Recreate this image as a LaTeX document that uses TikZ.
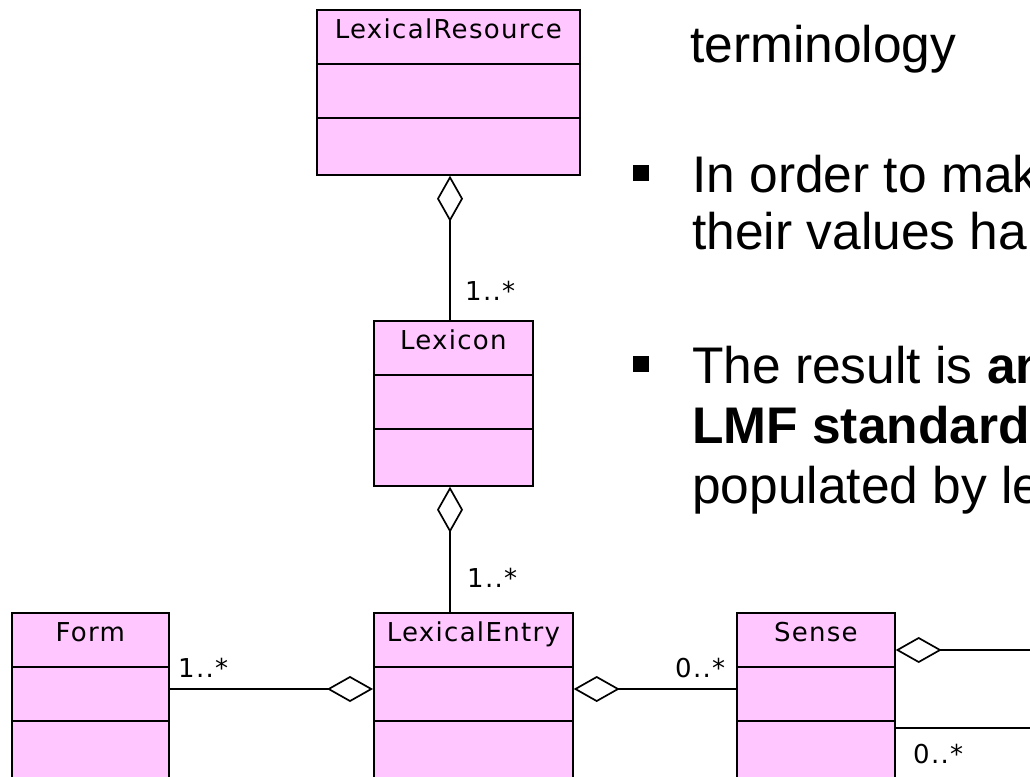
\documentclass[tikz,border=0pt]{standalone}
\usepackage{fontspec}
\setmainfont{Liberation Sans}
\newfontfamily\umlfont[LetterSpace=5]{DejaVu Sans}
\usetikzlibrary{arrows.meta,calc}
\definecolor{classpink}{RGB}{255,198,255}

\tikzset{
  classbox/.style={draw=black, fill=classpink, line width=1.7pt, inner sep=0pt, anchor=north west},
  classname/.style={font=\umlfont\fontsize{26}{26}\selectfont, anchor=base, inner sep=0pt},
  mult/.style={font=\umlfont\fontsize{26}{26}\selectfont, anchor=base west, inner sep=0pt},
  assoc/.style={line width=1.7pt},
  agg/.style={line width=1.7pt, {Diamond[open,fill=white,length=46pt,width=26pt]}-},
  bodytext/.style={font=\fontsize{51.5}{59.5}\selectfont, anchor=base west, inner sep=0pt},
  bulletmark/.style={fill=black, minimum size=16pt, inner sep=0pt},
}

% UML class with three compartments: name, x, y (top left), width, height, title
\newcommand\umlclass[6]{%
  \node[classbox, minimum width=#4pt, minimum height=#5pt] (#1) at (#2,#3) {};
  \draw[line width=1.7pt] ($(#1.north west)+(0,55)$) -- ($(#1.north east)+(0,55)$);
  \draw[line width=1.7pt] ($(#1.north west)+(0,109)$) -- ($(#1.north east)+(0,109)$);
  \node[classname] (#1-title) at ($(#1.north)+(0,29)$) {#6};
}

\begin{document}
\begin{tikzpicture}[x=1pt,y=-1pt]
\useasboundingbox (0,0) rectangle (1030,776);
\clip (0,0) rectangle (1030,776);

% classes
\umlclass{res}{316}{9}{263}{165}{LexicalResource}
\umlclass{lex}{373}{320}{159}{165}{Lexicon}
\umlclass{entry}{373}{612}{199}{172}{LexicalEntry}
\umlclass{form}{11}{612}{157}{172}{Form}
\umlclass{sense}{736}{612}{158}{172}{Sense}

\coordinate (stem) at (450,0);
\coordinate (out1) at (1034,650);
\coordinate (out2) at (1034,728);

% aggregations and associations
\draw[agg] (res.south -| stem) -- (lex.north -| stem);
\draw[agg] (lex.south -| stem) -- (entry.north -| stem);
\draw[agg] ($(entry.north west)+(0,77)$) -- ($(form.north east)+(0,77)$);
\draw[agg] ($(entry.north east)+(0,77)$) -- ($(sense.north west)+(0,77)$);
\draw[agg] ($(sense.north east)+(0,38)$) -- (out1);
\draw[assoc] ($(sense.north east)+(0,116)$) -- (out2);

% multiplicities
\node[mult] (m1) at (465,300) {1..*};
\node[mult] (m2) at (467,587) {1..*};
\node[mult] (m3) at (178,677) {1..*};
\node[mult] (m4) at (675,677) {0..*};
\node[mult] (m5) at (913,763) {0..*};

% bullet text
\node[bodytext] (t1) at (690,63) {terminology};
\node[bulletmark] (b2) at (641,173) {};
\node[bodytext] (t2a) at (692,192) {In order to mak};
\node[bodytext] (t2b) at (692,249) {their values ha};
\node[bulletmark] (b3) at (641,364) {};
\node[bodytext] (t3a) at (692,383) {The result is \textbf{an}};
\node[bodytext] (t3b) at (692,443) {\textbf{LMF standard}};
\node[bodytext] (t3c) at (692,503) {populated by le};
\end{tikzpicture}
\end{document}
